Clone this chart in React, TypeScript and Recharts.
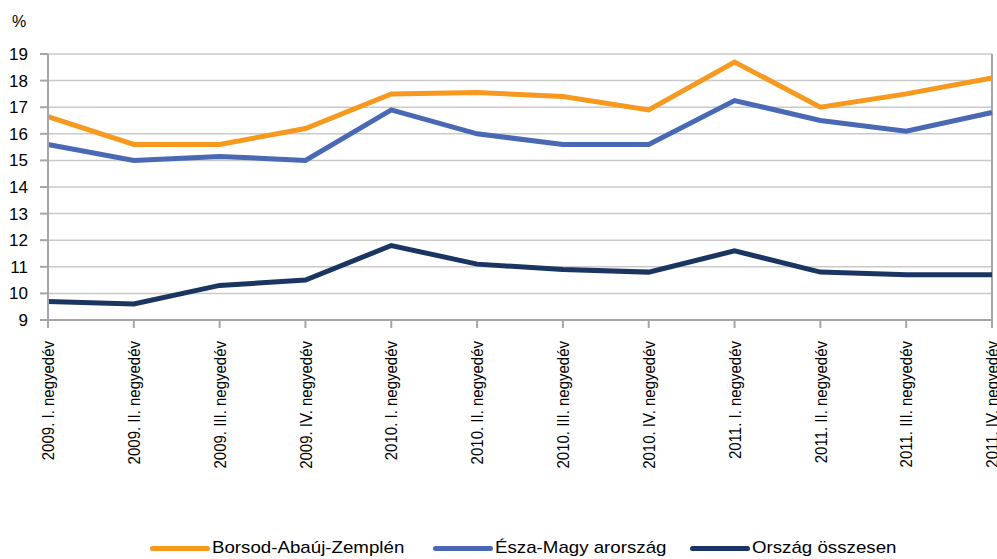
import { LineChart, Line, XAxis, YAxis, CartesianGrid, ReferenceLine } from 'recharts';

const quarters = [
  '2009. I. negyedév',
  '2009. II. negyedév',
  '2009. III. negyedév',
  '2009. IV. negyedév',
  '2010. I. negyedév',
  '2010. II. negyedév',
  '2010. III. negyedév',
  '2010. IV. negyedév',
  '2011. I. negyedév',
  '2011. II. negyedév',
  '2011. III. negyedév',
  '2011. IV. negyedév',
];

const borsod = [16.65, 15.6, 15.6, 16.2, 17.5, 17.55, 17.4, 16.9, 18.7, 17.0, 17.5, 18.1];
const eszak = [15.6, 15.0, 15.15, 15.0, 16.9, 16.0, 15.6, 15.6, 17.25, 16.5, 16.1, 16.8];
const orszag = [9.7, 9.6, 10.3, 10.5, 11.8, 11.1, 10.9, 10.8, 11.6, 10.8, 10.7, 10.7];

const yTicks = [9, 10, 11, 12, 13, 14, 15, 16, 17, 18, 19];

const seriesNames = ['Borsod-Abaúj-Zemplén', 'Észa-Magy arország', 'Ország összesen'];
const seriesColors = ['#F7991E', '#4A69B4', '#1B3563'];

const chartData = quarters.map((q, i) => ({
  q,
  borsod: borsod[i],
  eszak: eszak[i],
  orszag: orszag[i],
}));

const FONT = '"Liberation Sans", Arial, sans-serif';
const AXIS = '#A6A6A6';

// the source image is a bit stretched sideways, so the rotated labels get a wider glyph
function QuarterTick({ x, y, payload }: any) {
  return (
    <text
      transform={`translate(${x}, ${y + 11}) rotate(-90) scale(1, 1.15)`}
      textAnchor="end"
      dy="0.36em"
      fontSize={15}
      fontFamily={FONT}
      fill="#000"
    >
      {payload.value}
    </text>
  );
}

export default function App() {
  const legendPos = [150, 433, 690];
  return (
    <div style={{ position: 'absolute', left: 0, top: 0, width: 997, height: 559, background: '#fff' }}>
      <div style={{ position: 'absolute', left: 12, top: 13, fontFamily: FONT, fontSize: 16 }}>%</div>
      <LineChart width={997} height={559} data={chartData} margin={{ top: 54, right: 5, bottom: 99, left: 0 }}>
        <CartesianGrid vertical={false} stroke="#C9C9C9" strokeWidth={1.5} />
        <XAxis
          dataKey="q"
          interval={0}
          height={140}
          tickSize={8}
          tick={<QuarterTick />}
          axisLine={{ stroke: AXIS, strokeWidth: 2 }}
          tickLine={{ stroke: AXIS, strokeWidth: 2 }}
        />
        <YAxis
          width={48}
          domain={[9, 19]}
          ticks={yTicks}
          interval={0}
          tickSize={8}
          tickMargin={12}
          tick={{ fill: '#000', fontSize: 17, fontFamily: FONT }}
          axisLine={{ stroke: AXIS, strokeWidth: 2 }}
          tickLine={{ stroke: AXIS, strokeWidth: 2 }}
        />
        <ReferenceLine x={quarters[quarters.length - 1]} stroke={AXIS} strokeWidth={2} />
        <Line dataKey="borsod" stroke={seriesColors[0]} strokeWidth={5} dot={false} isAnimationActive={false} />
        <Line dataKey="eszak" stroke={seriesColors[1]} strokeWidth={5} dot={false} isAnimationActive={false} />
        <Line dataKey="orszag" stroke={seriesColors[2]} strokeWidth={5} dot={false} isAnimationActive={false} />
      </LineChart>
      {seriesNames.map((name, i) => (
        <div
          key={name}
          style={{
            position: 'absolute',
            left: legendPos[i],
            top: 538,
            display: 'flex',
            alignItems: 'center',
            fontFamily: FONT,
            fontSize: 17,
            whiteSpace: 'nowrap',
          }}
        >
          <span style={{ display: 'inline-block', width: 60, height: 5, borderRadius: 3, background: seriesColors[i], marginRight: 2 }} />
          <span style={{ display: 'inline-block', transform: 'scaleX(1.1)', transformOrigin: 'left center' }}>{name}</span>
        </div>
      ))}
    </div>
  );
}
